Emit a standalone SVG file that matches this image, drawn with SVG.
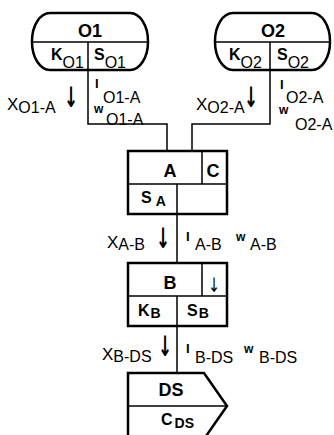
<svg xmlns="http://www.w3.org/2000/svg" width="334" height="435" viewBox="0 0 334 435">
<style>
.sh{fill:#fff;stroke:#000;stroke-width:2.5}
.ln{fill:none;stroke:#000;stroke-width:1.5}
.cn{fill:none;stroke:#000;stroke-width:1.5}
text{font-family:"Liberation Sans",Arial,sans-serif;fill:#000}
.t{font-size:18px;font-weight:bold}
.c{font-size:16px;font-weight:bold}
.cs{font-size:16px;font-weight:normal}
.csb{font-size:14px;font-weight:bold}
.x{font-size:17px}
.xs{font-size:16px}
.i{font-size:13px;font-weight:bold}
.w{font-size:12px;font-weight:bold}
.ar{font-family:"DejaVu Sans",sans-serif;font-size:28px;font-weight:bold;text-anchor:middle;fill:#000}
.ar2{font-family:"DejaVu Sans",sans-serif;font-size:20px;text-anchor:middle;fill:#000}
</style>
<rect width="334" height="435" fill="#fff"/>
<g id="connectors">
<path class="cn" d="M88,70 V124 H167 V151"/>
<path class="cn" d="M270,70 V124 H192 V151"/>
<path class="cn" d="M177,214 V263"/>
<path class="cn" d="M177,326 V373"/>
<text class="x" x="7" y="110">X<tspan class="xs" dy="3">O1-A</tspan></text>
<text class="ar" transform="translate(71,107) scale(0.6,1)">↓</text>
<text class="i" x="95" y="88">I</text>
<text class="xs" x="103" y="103">O1-A</text>
<text class="w" x="94" y="113">w</text>
<text class="xs" x="106" y="125">O1-A</text>
<text class="x" x="196" y="110">X<tspan class="xs" dy="3">O2-A</tspan></text>
<text class="ar" transform="translate(251,107) scale(0.6,1)">↓</text>
<text class="i" x="280" y="89">I</text>
<text class="xs" x="286" y="103">O2-A</text>
<text class="w" x="279" y="114">w</text>
<text class="xs" x="295" y="130">O2-A</text>
<text class="x" x="107" y="248">X<tspan class="xs" dy="2">A-B</tspan></text>
<text class="ar" transform="translate(163,248) scale(0.6,1)">↓</text>
<text class="i" x="186" y="241">I</text>
<text class="xs" x="195" y="250">A-B</text>
<text class="w" x="236" y="241">w</text>
<text class="xs" x="250" y="250">A-B</text>
<text class="x" x="102" y="360">X<tspan class="xs" dy="2">B-DS</tspan></text>
<text class="ar" transform="translate(165,356) scale(0.6,1)">↓</text>
<text class="i" x="186" y="353">I</text>
<text class="xs" x="195" y="363">B-DS</text>
<text class="w" x="244" y="353">w</text>
<text class="xs" x="259" y="363">B-DS</text>
</g>
<g id="O1">
<rect class="sh" x="32" y="13" width="116" height="57" rx="18" ry="28"/>
<path class="ln" d="M32,42 H148 M88,42 V70"/>
<text class="t" x="90" y="37" text-anchor="middle">O1</text>
<text class="c" x="51" y="60">K<tspan class="cs" dy="8">O1</tspan></text>
<text class="c" x="94" y="60">S<tspan class="cs" dy="8">O1</tspan></text>
</g>
<g id="O2">
<rect class="sh" x="215" y="13" width="115" height="57" rx="18" ry="28"/>
<path class="ln" d="M215,42 H330 M270,42 V70"/>
<text class="t" x="273" y="37" text-anchor="middle">O2</text>
<text class="c" x="229" y="60">K<tspan class="cs" dy="8">O2</tspan></text>
<text class="c" x="277" y="60">S<tspan class="cs" dy="8">O2</tspan></text>
</g>
<g id="A">
<rect class="sh" x="128" y="151" width="99" height="63"/>
<path class="ln" d="M128,184 H227 M202,151 V184 M177,184 V214"/>
<text class="t" x="170" y="177" text-anchor="middle">A</text>
<text class="t" x="213" y="177" text-anchor="middle">C</text>
<text class="c" x="141" y="203">S<tspan class="csb" dx="4" dy="3">A</tspan></text>
</g>
<g id="B">
<rect class="sh" x="128" y="263" width="99" height="63"/>
<path class="ln" d="M128,296 H227 M202,263 V296 M177,296 V326"/>
<text class="t" x="170" y="289" text-anchor="middle">B</text>
<text class="ar2" transform="translate(214,292) scale(0.7,1)">↓</text>
<text class="c" x="138" y="316">K<tspan class="csb" dx="1" dy="2">B</tspan></text>
<text class="c" x="187" y="316">S<tspan class="csb" dx="1" dy="2">B</tspan></text>
</g>
<g id="DS">
<path class="sh" d="M128,445 V373 H204 L227,406 L204,439"/>
<path class="ln" d="M128,406 H227"/>
<text class="t" x="171" y="396" text-anchor="middle">DS</text>
<text class="c" x="161" y="425">C<tspan class="csb" dx="2" dy="3">DS</tspan></text>
</g>
</svg>
